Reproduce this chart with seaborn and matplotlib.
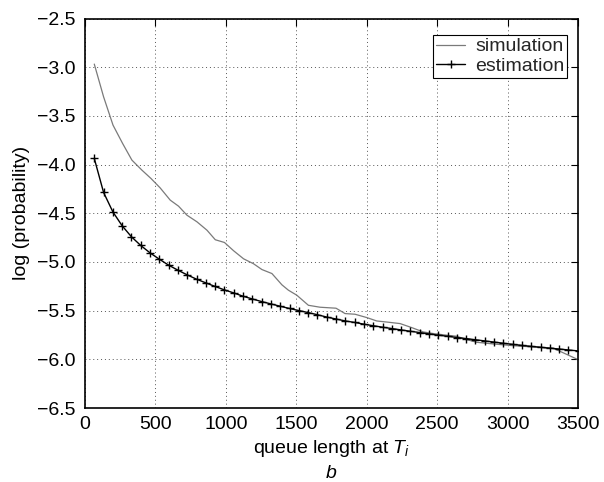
import matplotlib
matplotlib.use("Agg")
import matplotlib.pyplot as plt
import seaborn as sns
import pandas as pd

# ---- data ----
est_x = [66, 132, 198, 264, 330, 396, 462, 528, 594, 660, 726, 792, 858, 924,
         990, 1056, 1122, 1188, 1254, 1320, 1386, 1452, 1518, 1584, 1650, 1716,
         1782, 1848, 1914, 1980, 2046, 2112, 2178, 2244, 2310, 2376, 2442, 2508,
         2574, 2640, 2706, 2772, 2838, 2904, 2970, 3036, 3102, 3168, 3234, 3300,
         3366, 3432, 3510]
est_y = [-3.937, -4.286, -4.486, -4.629, -4.742, -4.831, -4.907, -4.972, -5.033,
         -5.085, -5.133, -5.177, -5.215, -5.252, -5.287, -5.318, -5.352, -5.380,
         -5.407, -5.431, -5.455, -5.478, -5.499, -5.520, -5.542, -5.566, -5.586,
         -5.606, -5.621, -5.639, -5.655, -5.670, -5.684, -5.698, -5.712, -5.725,
         -5.739, -5.752, -5.763, -5.776, -5.787, -5.799, -5.811, -5.823, -5.835,
         -5.846, -5.857, -5.867, -5.876, -5.886, -5.894, -5.904, -5.915]

sim_x = [66, 132, 199, 267, 333, 404, 468, 534, 605, 664, 724, 795, 866, 925,
         990, 1055, 1126, 1196, 1256, 1327, 1398, 1444, 1504, 1586, 1669, 1782,
         1846, 1917, 2000, 2071, 2154, 2237, 2319, 2402, 2472, 2567, 2638, 2709,
         2780, 2898, 3040, 3181, 3323, 3500]
sim_y = [-2.968, -3.304, -3.595, -3.783, -3.954, -4.057, -4.142, -4.240, -4.365,
         -4.427, -4.520, -4.588, -4.674, -4.772, -4.800, -4.885, -4.968, -5.018,
         -5.078, -5.119, -5.235, -5.290, -5.342, -5.445, -5.465, -5.475, -5.530,
         -5.537, -5.571, -5.606, -5.619, -5.633, -5.674, -5.719, -5.735, -5.752,
         -5.763, -5.797, -5.825, -5.842, -5.860, -5.873, -5.885, -6.003]

x_ticks = [0, 500, 1000, 1500, 2000, 2500, 3000, 3500]
y_ticks = [-6.5, -6.0, -5.5, -5.0, -4.5, -4.0, -3.5, -3.0, -2.5]

sim_df = pd.DataFrame({"x": sim_x, "y": sim_y})
est_df = pd.DataFrame({"x": est_x, "y": est_y})

sns.set_theme(style="white")
plt.rcParams["font.family"] = ["Liberation Sans", "DejaVu Sans"]
plt.rcParams["mathtext.fontset"] = "custom"
plt.rcParams["mathtext.it"] = "Liberation Sans:italic"
plt.rcParams["mathtext.rm"] = "Liberation Sans"

FS = 14

fig = plt.figure(figsize=(6.04, 4.82), dpi=100)
ax = fig.add_axes([0.1407, 0.1535, 0.8163, 0.8081])

sns.lineplot(data=sim_df, x="x", y="y", ax=ax, color="#7a7a7a", linewidth=0.9,
             label="simulation", sort=False)
sns.lineplot(data=est_df, x="x", y="y", ax=ax, color="black", linewidth=1.0,
             marker="+", markersize=6, markeredgewidth=1.0, markeredgecolor="black",
             label="estimation", sort=False)

ax.set_xlim(0, 3500)
ax.set_ylim(-6.5, -2.5)
ax.set_xticks(x_ticks)
ax.set_yticks(y_ticks)
ax.set_yticklabels([f"{v:.1f}".replace("-", "\u2212") for v in y_ticks])

ax.grid(True, linestyle=(0, (1, 3)), color="#555555", linewidth=0.7)
ax.tick_params(direction="in", top=True, right=True, length=5, width=0.8,
               labelsize=FS, colors="black")
ax.tick_params(axis="x", pad=6)
ax.tick_params(axis="y", pad=7)
for s in ax.spines.values():
    s.set_color("black")
    s.set_linewidth(1.2)

ax.set_xlabel("queue length at $T_i$", fontsize=FS, labelpad=3, color="black")
ax.set_ylabel("log (probability)", fontsize=FS, labelpad=5, color="black")
fig.text(0.5485, 0.008, "b", fontsize=FS, style="italic", ha="center", color="black")

leg = ax.legend(loc="upper right", bbox_to_anchor=(0.978, 0.958), fontsize=FS,
                frameon=True, fancybox=False, edgecolor="black", framealpha=1,
                handlelength=1.5, borderpad=0.15, labelspacing=0.1,
                handletextpad=0.5, borderaxespad=0.0)
leg.get_frame().set_linewidth(0.8)

fig.savefig("out.png", dpi=100)
